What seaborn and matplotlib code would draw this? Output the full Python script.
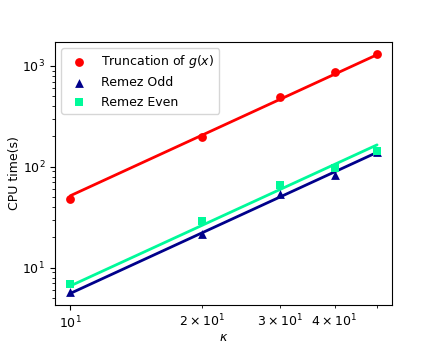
import numpy as np
import pandas as pd
import matplotlib
matplotlib.use("Agg")
import matplotlib.pyplot as plt
import seaborn as sns

# -----------------------------
# Data
# -----------------------------
kappa = [10, 20, 30, 40, 50]
truncation = [47.5, 198, 487, 871, 1327]
remez_odd = [5.75, 21.6, 53.3, 82.8, 140]
remez_even = [6.85, 28.8, 65.9, 96.4, 144]

series_names = ["Truncation of $g(x)$", "Remez Odd", "Remez Even"]
series_values = [truncation, remez_odd, remez_even]
colors = ["#ff0000", "#00008b", "#00fa9a"]
markers = ["o", "^", "s"]

sns.set_style("ticks", {
    "axes.edgecolor": "black",
    "text.color": "black",
    "axes.labelcolor": "black",
    "xtick.color": "black",
    "ytick.color": "black",
})
plt.rcParams["font.family"] = ["DejaVu Sans"]
plt.rcParams["mathtext.fontset"] = "dejavusans"
plt.rcParams["font.size"] = 9
plt.rcParams["xtick.major.size"] = 3.5
plt.rcParams["ytick.major.size"] = 3.5
plt.rcParams["xtick.minor.size"] = 2
plt.rcParams["ytick.minor.size"] = 2
plt.rcParams["axes.linewidth"] = 0.8

fig, ax = plt.subplots(figsize=(4.36, 3.49), dpi=100)
fig.subplots_adjust(left=0.126, right=0.9, bottom=0.126, top=0.88)

for name, vals, col, mk in zip(series_names, series_values, colors, markers):
    df = pd.DataFrame({"kappa": kappa, "time": vals})
    # O(kappa^2) reference line, constant fitted in log space
    logc = np.mean(np.log10(df["time"]) - 2 * np.log10(df["kappa"]))
    df["fit"] = 10 ** logc * df["kappa"] ** 2
    sns.lineplot(data=df, x="kappa", y="fit", color=col, linewidth=2, ax=ax)
    sns.scatterplot(data=df, x="kappa", y="time", color=col, marker=mk, s=40,
                    edgecolor=col, linewidth=0, label=name, ax=ax, zorder=3)

ax.set_xscale("log")
ax.set_yscale("log")
ax.set_ylim(4.27, 1730)
ax.set_xlabel(r"$\kappa$", fontsize=9, labelpad=0)
ax.set_ylabel("CPU time(s)", fontsize=9, labelpad=1)
ax.tick_params(labelsize=9)
ax.legend(loc="upper left", fontsize=9)

fig.savefig("out.png", dpi=100)
